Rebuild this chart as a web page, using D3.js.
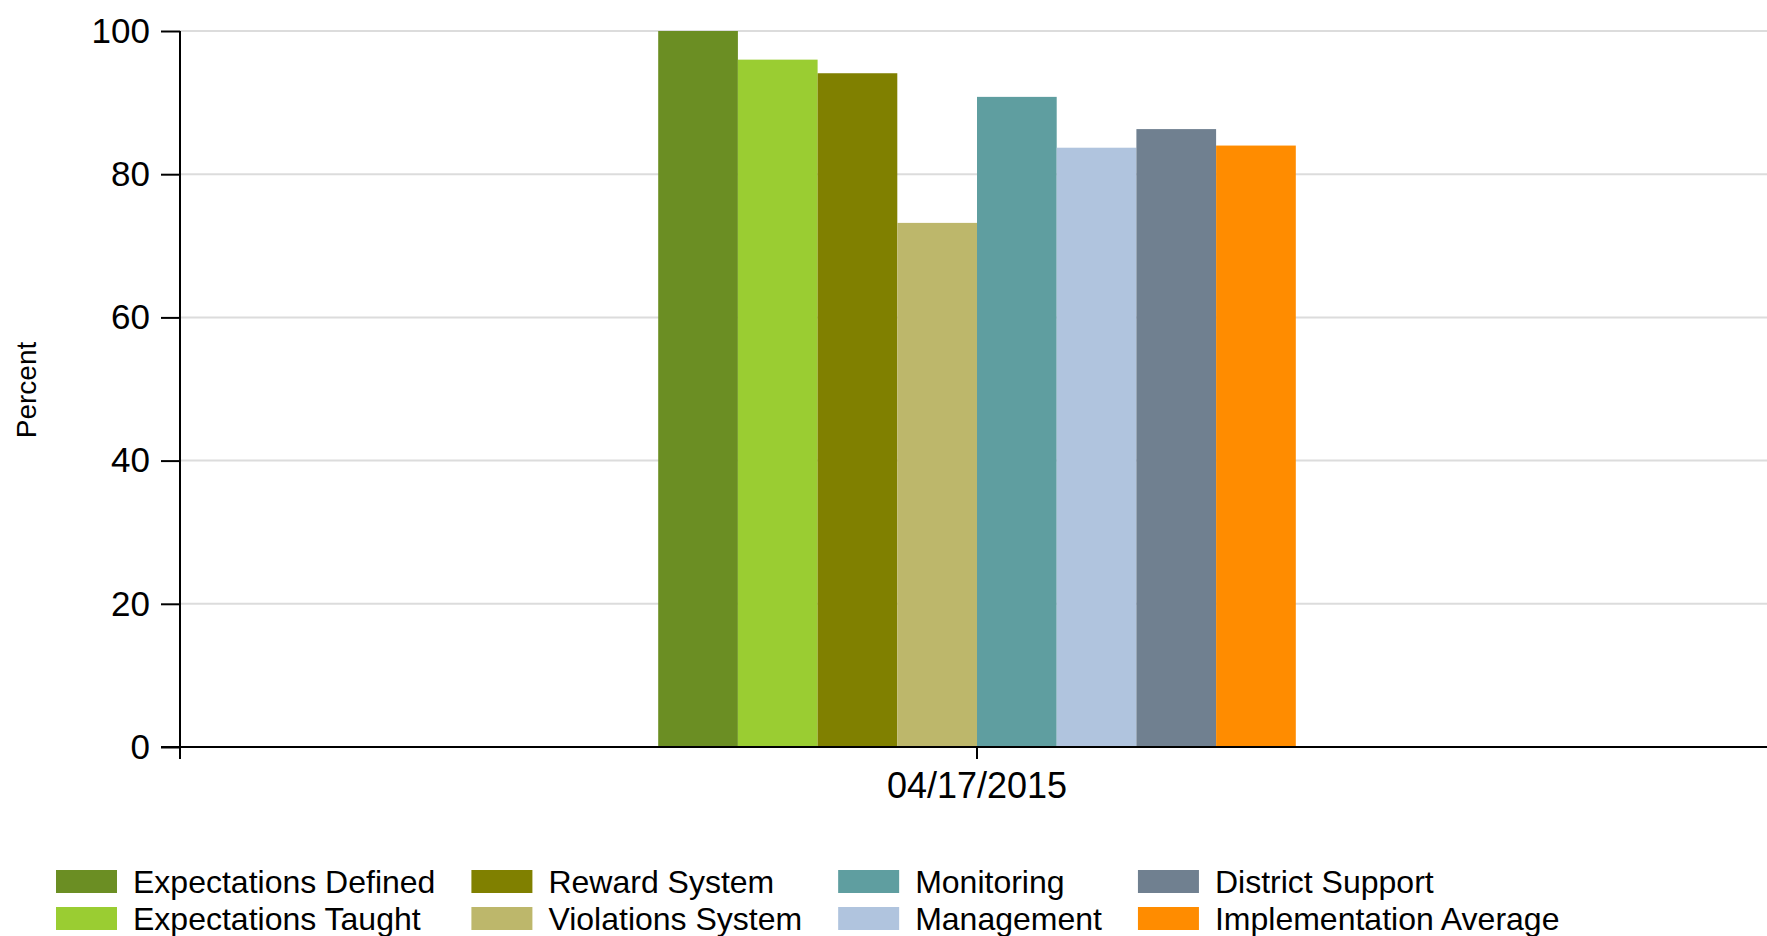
<!DOCTYPE html>
<html>
<head>
<meta charset="utf-8">
<script src="https://cdn.jsdelivr.net/npm/d3@7"></script>
<style>
  body { margin: 0; background: #fff; }
  svg { display: block; font-family: "Liberation Sans", Arial, sans-serif; }
  .grid line { stroke: #dcdcdc; stroke-width: 2; }
  .axis path, .axis line { stroke: #000; stroke-width: 2; }
  .axis text { font-size: 35px; fill: #000; }
</style>
</head>
<body>
<script>
// chart data
var dates = ["04/17/2015"];
var seriesNames = ["Expectations Defined", "Expectations Taught", "Reward System", "Violations System",
                   "Monitoring", "Management", "District Support", "Implementation Average"];
var seriesValues = [100, 96.0, 94.1, 73.2, 90.8, 83.7, 86.3, 84.0];
var seriesColors = ["#6b8e23", "#9acd32", "#808000", "#bdb76b", "#5f9ea0", "#b0c4de", "#708090", "#ff8c00"];
var yTicks = [0, 20, 40, 60, 80, 100];

var svgWidth = 1767, svgHeight = 936;
var margin = {top: 31, left: 180};
var plotBottom = 747;

var svg = d3.select("body").append("svg")
    .attr("width", svgWidth)
    .attr("height", svgHeight);

var y = d3.scaleLinear().domain([0, 100]).range([plotBottom, margin.top]);

var x0 = d3.scaleBand().domain(dates).range([margin.left, 1774]).paddingInner(0).paddingOuter(0.75);
var x1 = d3.scaleBand().domain(seriesNames).range([0, x0.bandwidth()]);

// gridlines
svg.append("g").attr("class", "grid")
  .selectAll("line")
  .data(yTicks.filter(function(d) { return d > 0; }))
  .enter().append("line")
    .attr("x1", margin.left).attr("x2", svgWidth)
    .attr("y1", function(d) { return y(d); })
    .attr("y2", function(d) { return y(d); });

// bars
var group = svg.selectAll(".date")
  .data(dates)
  .enter().append("g")
    .attr("transform", function(d) { return "translate(" + x0(d) + ",0)"; });

group.selectAll("rect")
  .data(seriesNames.map(function(n, i) { return {name: n, value: seriesValues[i], color: seriesColors[i]}; }))
  .enter().append("rect")
    .attr("x", function(d) { return x1(d.name); })
    .attr("width", x1.bandwidth())
    .attr("y", function(d) { return y(d.value); })
    .attr("height", function(d) { return plotBottom - y(d.value); })
    .attr("fill", function(d) { return d.color; });

// y axis
var yAxis = svg.append("g").attr("class", "axis")
    .attr("transform", "translate(" + margin.left + ",0)")
    .call(d3.axisLeft(y).tickValues(yTicks).tickSize(19).tickPadding(11).tickSizeOuter(0));
yAxis.select(".domain").attr("d", "M0," + (plotBottom + 12) + "V" + margin.top);

// x axis
var xAxis = svg.append("g").attr("class", "axis")
    .attr("transform", "translate(0," + plotBottom + ")")
    .call(d3.axisBottom(x0).tickSize(12).tickPadding(13).tickSizeOuter(0));
xAxis.select(".domain").attr("d", "M" + (margin.left - 19) + ",0H" + svgWidth);
xAxis.selectAll("text").style("font-size", "36px");

// y label
svg.append("text")
    .attr("transform", "translate(36,390) rotate(-90)")
    .attr("text-anchor", "middle")
    .style("font-size", "28px")
    .text("Percent");

// legend: two rows, column-major order
var legend = svg.append("g").attr("class", "legend");
var colX = 56, rowY = [870, 907];
for (var c = 0; c < seriesNames.length / 2; c++) {
  var maxW = 0;
  for (var r = 0; r < 2; r++) {
    var i = c * 2 + r;
    legend.append("rect")
        .attr("x", colX).attr("y", rowY[r])
        .attr("width", 61).attr("height", 23)
        .attr("fill", seriesColors[i]);
    var t = legend.append("text")
        .attr("x", colX + 77).attr("y", rowY[r] + 23)
        .style("font-size", "32px")
        .text(seriesNames[i]);
    maxW = Math.max(maxW, t.node().getComputedTextLength());
  }
  colX += 77 + maxW + 36;
}
</script>
</body>
</html>
